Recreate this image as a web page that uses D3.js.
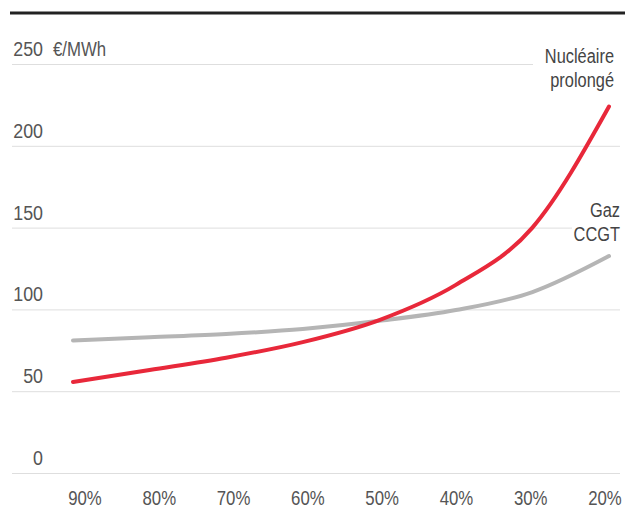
<!DOCTYPE html>
<html>
<head>
<meta charset="utf-8">
<script src="https://cdn.jsdelivr.net/npm/d3@7"></script>
<style>
  body { margin: 0; background: #fff; }
  svg { display: block; }
  text { font-family: "Liberation Sans", Arial, sans-serif; fill: #555; }
  .grid line { stroke: #dedede; stroke-width: 1; }
  .grid path { display: none; }
</style>
</head>
<body>
<svg width="625" height="512"></svg>
<script>
// share of nuclear in the mix, read left to right
var shares = [90, 80, 70, 60, 50, 40, 30, 20]
var shareLabels = ["90%", "80%", "70%", "60%", "50%", "40%", "30%", "20%"]
var yTicks = [0, 50, 100, 150, 200, 250]

// €/MWh
var nucleaire = [55.6, 63, 70.5, 80, 93.5, 115, 150, 224]
var gaz = [81, 83, 85, 88, 93, 99.6, 110.6, 132.6]

// condensed look: squeeze a regular sans horizontally
function place(sel, fx, fy, k) {
	sel.attr("transform", function(d, i) {
		return "translate(" + fx(d, i) + "," + fy(d, i) + ") scale(" + (k || 0.85) + ",1)"
	})
}

var svg = d3.select("svg")

// heavy rule at the top
svg.append("line")
   .attr("x1", 10).attr("x2", 625)
   .attr("y1", 13).attr("y2", 13)
   .attr("stroke", "#222")
   .attr("stroke-width", 3)

var x = d3.scaleLinear()
          .domain([90, 20])
          .range([73, 609])

// labels sit a little differently than the data points
var xLabel = d3.scaleLinear()
               .domain([90, 20])
               .range([85, 605])

var y = d3.scaleLinear()
          .domain([0, 250])
          .range([473, 64])

// grid lines
svg.append("g")
   .attr("class", "grid")
   .attr("transform", "translate(12,0)")
   .call(d3.axisRight(y)
           .tickValues(yTicks)
           .tickSize(608)
           .tickFormat(""))

// y labels
svg.append("g")
   .selectAll("text")
   .data(yTicks)
   .enter()
   .append("text")
   .attr("text-anchor", "end")
   .attr("font-size", 21)
   .text(function(d) { return d })
   .call(place, function() { return 43 }, function(d) { return y(d) - 8 })

svg.append("text")
   .attr("font-size", 21)
   .text("€/MWh")
   .call(place, function() { return 53 }, function() { return y(250) - 8 }, 0.8)

// x labels
svg.append("g")
   .selectAll("text")
   .data(shares)
   .enter()
   .append("text")
   .attr("text-anchor", "middle")
   .attr("font-size", 21)
   .text(function(d, i) { return shareLabels[i] })
   .call(place, function(d) { return xLabel(d) }, function() { return 505 }, 0.8)

var line = d3.line()
             .x(function(d, i) { return x(shares[i]) })
             .y(function(d) { return y(d) })
             .curve(d3.curveMonotoneX)

svg.append("path")
   .datum(gaz)
   .attr("d", line)
   .attr("fill", "none")
   .attr("stroke", "#b5b5b5")
   .attr("stroke-width", 4)
   .attr("stroke-linecap", "round")

svg.append("path")
   .datum(nucleaire)
   .attr("d", line)
   .attr("fill", "none")
   .attr("stroke", "#e8283a")
   .attr("stroke-width", 4)
   .attr("stroke-linecap", "round")

// series labels, with white behind to cut the grid
function seriesLabel(lines, xRight, yFirst, boxLeft) {
	svg.append("rect")
	   .attr("x", boxLeft)
	   .attr("y", yFirst - 18)
	   .attr("width", 625 - boxLeft)
	   .attr("height", lines.length * 24 + 4)
	   .attr("fill", "#fff")
	svg.append("g")
	   .selectAll("text")
	   .data(lines)
	   .enter()
	   .append("text")
	   .attr("text-anchor", "end")
	   .attr("font-size", 21)
	   .style("fill", "#444")
	   .text(function(d) { return d })
	   .call(place, function() { return xRight }, function(d, i) { return yFirst + i * 24 }, 0.78)
}
seriesLabel(["Nucléaire", "prolongé"], 614, 63, 533)
seriesLabel(["Gaz", "CCGT"], 620, 217, 572)
</script>
</body>
</html>
